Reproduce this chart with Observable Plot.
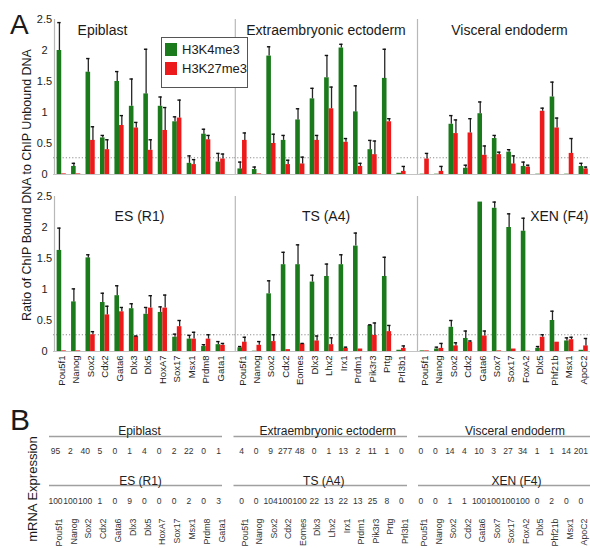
<!DOCTYPE html>
<html><head><meta charset="utf-8">
<script src="https://cdn.jsdelivr.net/npm/d3@7"></script>
<script src="https://cdn.jsdelivr.net/npm/@observablehq/plot@0.6"></script>
<style>
body{margin:0;background:#fff;}
#fig{position:relative;width:590px;height:548px;overflow:hidden;font-family:"Liberation Sans",Arial,sans-serif;color:#222;}
#fig > *{position:absolute;}
</style></head><body><div id="fig"></div>
<script>
// ---------- DATA ----------
const epiGenes = ["Pou5f1","Nanog","Sox2","Cdx2","Gata6","Dlx3","Dlx5","HoxA7","Sox17","Msx1","Prdm8","Gata1"];
const tsGenes  = ["Pou5f1","Nanog","Sox2","Cdx2","Eomes","Dlx3","Lhx2","Irx1","Prdm1","Pik3r3","Prtg","Prl3b1"];
const xenGenes = ["Pou5f1","Nanog","Sox2","Cdx2","Gata6","Sox7","Sox17","FoxA2","Dlx5","Phf21b","Msx1","ApoC2"];
const seriesNames = ["H3K4me3","H3K27me3"];
const threshold = 0.27;
const yTicks = [0,0.5,1,1.5,2,2.5];

// Epiblast
const epiK4     = [2.00,0.13,1.65,0.59,1.50,1.10,1.30,1.10,0.85,0.18,0.65,0.20];
const epiK4Err  = [0.45,0.05,0.22,0.04,0.16,0.44,0.72,0.15,0.08,0.12,0.08,0.14];
const epiK27    = [0.01,0.01,0.55,0.40,0.79,0.75,0.39,0.71,0.91,0.16,0.56,0.25];
const epiK27Err = [0,0,0.22,0.16,0.16,0.09,0.17,0.37,0.29,0.08,0.07,0.08];
// Extraembryonic ectoderm
const exeK4     = [0.09,0.08,1.91,0.55,0.88,1.22,1.56,2.04,1.01,0.40,1.55,0.02];
const exeK4Err  = [0.11,0.04,0.15,0.08,0.18,0.17,0.36,0.06,0.42,0.15,0.47,0];
const exeK27    = [0.55,0.01,0.50,0.16,0.17,0.55,1.06,0.52,0.13,0.32,0.85,0.05];
const exeK27Err = [0.12,0,0.15,0.07,0.11,0.08,0.35,0.06,0.05,0.22,0.05,0.08];
// Visceral endoderm
const veK4      = [0.005,0.005,0.81,0.10,0.98,0.58,0.36,0.13,0.005,1.25,0.005,0.13];
const veK4Err   = [0,0,0.14,0.05,0.19,0.05,0.04,0.07,0,0.24,0,0.05];
const veK27     = [0.25,0.05,0.66,0.67,0.31,0.32,0.17,0.12,1.02,0.75,0.34,0.09];
const veK27Err  = [0.09,0.08,0.22,0.23,0.15,0.04,0.13,0.03,0.05,0.16,0.24,0.03];
// ES (R1)
const esK4      = [1.63,0.80,1.51,0.79,0.90,0.69,0.60,0.63,0.23,0.20,0.08,0.11];
const esK4Err   = [0.36,0.21,0.05,0.15,0.16,0.08,0.11,0.09,0.05,0.06,0.03,0.05];
const esK27     = [0.01,0.01,0.27,0.59,0.64,0.24,0.70,0.70,0.40,0.20,0.20,0.10];
const esK27Err  = [0,0,0.05,0.14,0.07,0.01,0.20,0.21,0.10,0.11,0.07,0.03];
// TS (A4)
const tsK4      = [0.06,0.005,0.93,1.40,1.40,1.12,1.21,1.40,1.70,0.42,1.21,0.02];
const tsK4Err   = [0.02,0,0.21,0.20,0.32,0.11,0.20,0.16,0.21,0.01,0.31,0];
const tsK27     = [0.15,0.10,0.16,0.03,0.12,0.17,0.11,0.05,0.04,0.26,0.32,0.05];
const tsK27Err  = [0.08,0.06,0.11,0,0.01,0.08,0.11,0.02,0,0.20,0.10,0.04];
// XEN (F4)
const xenK4     = [0.01,0.04,0.39,0.21,2.41,2.31,2.00,1.94,0.05,0.50,0.17,0.02];
const xenK4Err  = [0,0.03,0.11,0.12,0,0.10,0.22,0.21,0.03,0.15,0.05,0];
const xenK27    = [0.01,0.05,0.09,0.15,0.25,0.01,0.04,0.005,0.23,0.15,0.19,0.09];
const xenK27Err = [0,0.08,0.05,0.02,0.08,0,0,0,0.04,0,0.04,0.12];

// mRNA expression (part B)
const epiMRNA = [95,2,40,5,0,1,4,0,2,22,0,1];
const exeMRNA = [4,0,9,277,48,0,1,13,2,11,1,0];
const veMRNA  = [0,0,14,4,10,3,27,34,1,1,14,201];
const esMRNA  = [100,100,100,1,0,9,0,0,0,2,0,3];
const tsMRNA  = [0,0,104,100,100,22,13,22,13,25,8,0];
const xenMRNA = [0,0,1,1,100,100,100,100,0,2,0,0];

// ---------- STYLE ----------
const FONT = '"Liberation Sans", Arial, sans-serif';
const GREEN = "#1b7a1b", RED = "#ec1a1a";
const fig = document.getElementById("fig");
function place(el, left, top){ el.style.position="absolute"; el.style.left=left+"px"; el.style.top=top+"px"; fig.appendChild(el); return el; }

function panel(cfg){
  const n = cfg.genes.length;
  const bw = (cfg.range[1]-cfg.range[0])/n, half = bw/2, barW = 4.6, capW = 3.4;
  const rows = cfg.genes.map((g,i)=>({gene:g,k4:cfg.k4[i],k4e:cfg.k4Err[i],k27:cfg.k27[i],k27e:cfg.k27Err[i]}));
  const e4 = rows.filter(d=>d.k4e>0), e27 = rows.filter(d=>d.k27e>0);
  const marks = [
    Plot.ruleY([threshold], {stroke:"#8c8c8c", strokeWidth:1, strokeDasharray:"1.2,2"}),
    Plot.ruleY([0], {stroke:"#c4c4c4"}),
    Plot.ruleX([cfg.genes[0]], {y1:0, y2:2.5, stroke:"#b8b8b8", strokeWidth:1.2, dx:-half}),
    Plot.barY(rows, {x:"gene", y:"k4", fill:GREEN, insetLeft:half-barW, insetRight:half}),
    Plot.barY(rows, {x:"gene", y:"k27", fill:RED, insetLeft:half, insetRight:half-barW}),
    Plot.ruleX(e4, {x:"gene", y1:"k4", y2:d=>d.k4+d.k4e, dx:-barW/2, stroke:"#262626", strokeWidth:1.3}),
    Plot.tickY(e4, {x:"gene", y:d=>d.k4+d.k4e, insetLeft:half-barW/2-capW/2, insetRight:half+barW/2-capW/2, stroke:"#111", strokeWidth:1.4}),
    Plot.ruleX(e27, {x:"gene", y1:"k27", y2:d=>d.k27+d.k27e, dx:barW/2, stroke:"#262626", strokeWidth:1.3}),
    Plot.tickY(e27, {x:"gene", y:d=>d.k27+d.k27e, insetLeft:half+barW/2-capW/2, insetRight:half-barW/2-capW/2, stroke:"#111", strokeWidth:1.4}),
    Plot.text([cfg.title], {text:d=>d, frameAnchor:cfg.titleAnchor||"top", textAnchor:cfg.titleTextAnchor||"middle", dx:cfg.titleDx||0, dy:cfg.titleDy, fontSize:14, fill:"#1a1a1a"})
  ];
  if (cfg.yAxis) marks.push(Plot.axisY(yTicks, {tickSize:0, tickPadding:9, textAnchor:"middle", fontSize:11, tickFormat:d=>String(d), label:null, fill:"#222"}));
  if (cfg.xAxis) marks.push(Plot.axisX({tickRotate:-90, tickSize:0, tickPadding:4, fontSize:9.5, label:null, fill:"#222"}));
  const p = Plot.plot({
    width:cfg.width, height:cfg.height,
    marginLeft:cfg.ml, marginRight:0, marginTop:cfg.mt, marginBottom:cfg.mb,
    style:{fontFamily:FONT, background:"transparent", overflow:"visible"},
    x:{type:"band", domain:cfg.genes, range:cfg.range, padding:0, round:false, axis:null},
    y:{domain:[0,2.5], axis:null},
    marks
  });
  return place(p, cfg.left, cfg.top);
}

// top row
const topRow = {top:0, height:178, mt:19, mb:4, titleDy:6};
const botRow = {top:178, height:213, mt:18, mb:40, titleDy:15, xAxis:true};
panel({...topRow, left:0, width:234, ml:53, range:[54,227.4], genes:epiGenes, k4:epiK4, k4Err:epiK4Err, k27:epiK27, k27Err:epiK27Err, title:"Epiblast", titleDx:-41.5, yAxis:true});
panel({...topRow, left:230, width:187, ml:4, range:[4.8,178.2], genes:tsGenes, k4:exeK4, k4Err:exeK4Err, k27:exeK27, k27Err:exeK27Err, title:"Extraembryonic ectoderm", titleDx:0});
panel({...topRow, left:413, width:177, ml:4, range:[4,177.4], genes:xenGenes, k4:veK4, k4Err:veK4Err, k27:veK27, k27Err:veK27Err, title:"Visceral endoderm", titleDx:5.5});
// bottom row
panel({...botRow, left:0, width:234, ml:53, range:[54,227.4], genes:epiGenes, k4:esK4, k4Err:esK4Err, k27:esK27, k27Err:esK27Err, title:"ES (R1)", titleDx:-4.5, yAxis:true});
panel({...botRow, left:230, width:187, ml:4, range:[4.8,178.2], genes:tsGenes, k4:tsK4, k4Err:tsK4Err, k27:tsK27, k27Err:tsK27Err, title:"TS (A4)", titleDx:0});
panel({...botRow, left:413, width:177, ml:4, range:[4,177.4], genes:xenGenes, k4:xenK4, k4Err:xenK4Err, k27:xenK27, k27Err:xenK27Err, title:"XEN (F4)", titleAnchor:"top-right", titleTextAnchor:"end", titleDx:-2});

// legend
const leg = document.createElement("div");
Object.assign(leg.style, {width:"87px", height:"51px", boxSizing:"border-box", border:"1px solid #555", background:"#fff", fontSize:"13px", zIndex:5});
[GREEN, RED].forEach((c,i)=>{
  const sw = document.createElement("div");
  Object.assign(sw.style,{position:"absolute", left:"3px", top:(5+i*19)+"px", width:"12px", height:"13px", background:c});
  const tx = document.createElement("div");
  Object.assign(tx.style,{position:"absolute", left:"20px", top:(4+i*19)+"px", lineHeight:"15px", whiteSpace:"nowrap", color:"#1a1a1a"});
  tx.textContent = seriesNames[i];
  leg.appendChild(sw); leg.appendChild(tx);
});
place(leg, 161, 37);

// letters and axis titles
function label(text, left, top, size, rotate){
  const d = document.createElement("div");
  d.textContent = text;
  Object.assign(d.style,{fontSize:size+"px", whiteSpace:"nowrap", lineHeight:size+"px", color:"#1a1a1a"});
  if (rotate) d.style.transform = "translate(-50%,-50%) rotate(-90deg)";
  return place(d, left, top);
}
label("A", 10, 11, 28);
label("B", 10, 405, 30);
label("Ratio of ChIP Bound DNA to ChIP Unbound DNA", 27, 185, 12.5, true);
label("mRNA Expression", 32, 489, 13, true);

// part B tables
function table(cfg){
  const r1 = cfg.genes.map((g,i)=>({gene:g, v:cfg.v1[i]}));
  const r2 = cfg.genes.map((g,i)=>({gene:g, v:cfg.v2[i]}));
  const p = Plot.plot({
    width:cfg.width, height:138, marginLeft:cfg.ml, marginRight:0, marginTop:0, marginBottom:0,
    style:{fontFamily:FONT, background:"transparent", overflow:"visible"},
    x:{type:"band", domain:cfg.genes, range:cfg.range, padding:0, round:false, axis:null},
    y:{type:"point", domain:["r1","r2"], range:[25.5,74.5], padding:0, axis:null},
    marks:[
      Plot.ruleY(["r1","r2"], {stroke:"#a0a0a0", strokeWidth:1.5}),
      Plot.text([cfg.t1], {text:d=>d, frameAnchor:"top", dx:cfg.dx1, dy:15.5, fontSize:12, fill:"#222"}),
      Plot.text([cfg.t2], {text:d=>d, frameAnchor:"top", dx:cfg.dx2, dy:65.5, fontSize:12, fill:"#222"}),
      Plot.text(r1, {x:"gene", text:d=>String(d.v), frameAnchor:"top", dy:37.5, fontSize:8.5, fill:"#333"}),
      Plot.text(r2, {x:"gene", text:d=>String(d.v), frameAnchor:"top", dy:87.5, fontSize:8.5, fill:"#333"}),
      Plot.text(cfg.genes, {x:d=>d, text:d=>d, frameAnchor:"top", dy:108, rotate:-90, textAnchor:"end", fontSize:8.8, fill:"#333"})
    ]
  });
  return place(p, cfg.left, 410);
}
table({left:0, width:222, ml:49, range:[47.6,225.4], genes:epiGenes, t1:"Epiblast", t2:"ES (R1)", dx1:3.5, dx2:4.5, v1:epiMRNA, v2:esMRNA});
table({left:228, width:179, ml:5.5, range:[5.75,180.25], genes:tsGenes, t1:"Extraembryonic ectoderm", t2:"TS (A4)", dx1:7, dx2:3, v1:exeMRNA, v2:tsMRNA});
table({left:410, width:180, ml:8, range:[3,177.6], genes:xenGenes, t1:"Visceral endoderm", t2:"XEN (F4)", dx1:10.5, dx2:12, v1:veMRNA, v2:xenMRNA});
</script></body></html>
